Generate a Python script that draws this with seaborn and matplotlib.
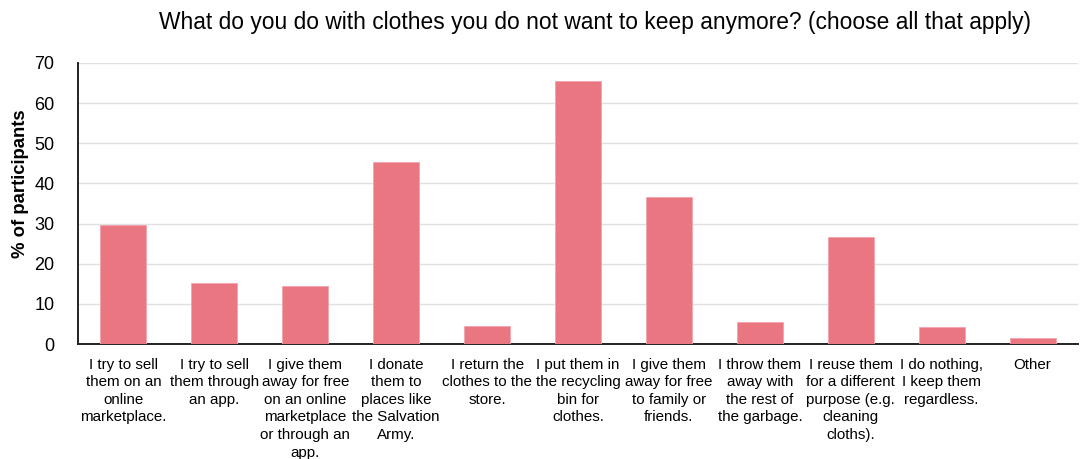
import matplotlib
matplotlib.use("Agg")
import matplotlib.pyplot as plt
import seaborn as sns
import pandas as pd

categories = [
    "I try to sell\nthem on an\nonline\nmarketplace.",
    "I try to sell\nthem through\nan app.",
    "I give them\naway for free\non an online\nmarketplace\nor through an\napp.",
    "I donate\nthem to\nplaces like\nthe Salvation\nArmy.",
    "I return the\nclothes to the\nstore.",
    "I put them in\nthe recycling\nbin for\nclothes.",
    "I give them\naway for free\nto family or\nfriends.",
    "I throw them\naway with\nthe rest of\nthe garbage.",
    "I reuse them\nfor a different\npurpose (e.g.\ncleaning\ncloths).",
    "I do nothing,\nI keep them\nregardless.",
    "Other",
]
percent = [29.6, 15.3, 14.4, 45.4, 4.6, 65.4, 36.7, 5.5, 26.7, 4.2, 1.4]
y_ticks = [0, 10, 20, 30, 40, 50, 60, 70]

title = "What do you do with clothes you do not want to keep anymore? (choose all that apply)"
y_label = "% of participants"

sns.set_theme(style="white")
plt.rcParams["font.family"] = ["Liberation Sans", "DejaVu Sans"]
plt.rcParams["text.color"] = "black"
plt.rcParams["xtick.color"] = "black"
plt.rcParams["ytick.color"] = "black"
plt.rcParams["axes.labelcolor"] = "black"

df = pd.DataFrame({"option": categories, "percent": percent})

fig = plt.figure(figsize=(10.8, 4.59), dpi=100)
ax = fig.add_axes([0.0722, 0.2505, 0.926, 0.6125])

sns.barplot(data=df, x="option", y="percent", color="#EA7682", saturation=1,
            width=0.505, edgecolor="#F2A3AC", linewidth=0.6, ax=ax, zorder=3)

ax.set_ylim(0, 70)
ax.set_yticks(y_ticks)
ax.set_yticklabels([str(t) for t in y_ticks], fontsize=13)
ax.yaxis.grid(True, color="#E0E0E0", linewidth=1, zorder=0)
ax.set_axisbelow(True)
ax.tick_params(axis="both", length=0)
ax.tick_params(axis="y", pad=17)
ax.tick_params(axis="x", pad=10)
for lbl in ax.get_xticklabels():
    lbl.set_fontsize(10.9)
    lbl.set_linespacing(1.32)
    lbl.set_va("top")

for side in ["top", "right"]:
    ax.spines[side].set_visible(False)
for side in ["left", "bottom"]:
    ax.spines[side].set_color("#222222")
    ax.spines[side].set_linewidth(1.4)

ax.set_xlabel("")
ax.set_ylabel(y_label, fontsize=13.3, fontweight="bold")
ax.yaxis.set_label_coords(-0.0485, 0.57)

fig.text(0.551, 0.952, title, ha="center", va="center", fontsize=16.4)

fig.savefig("out.png", dpi=100)
